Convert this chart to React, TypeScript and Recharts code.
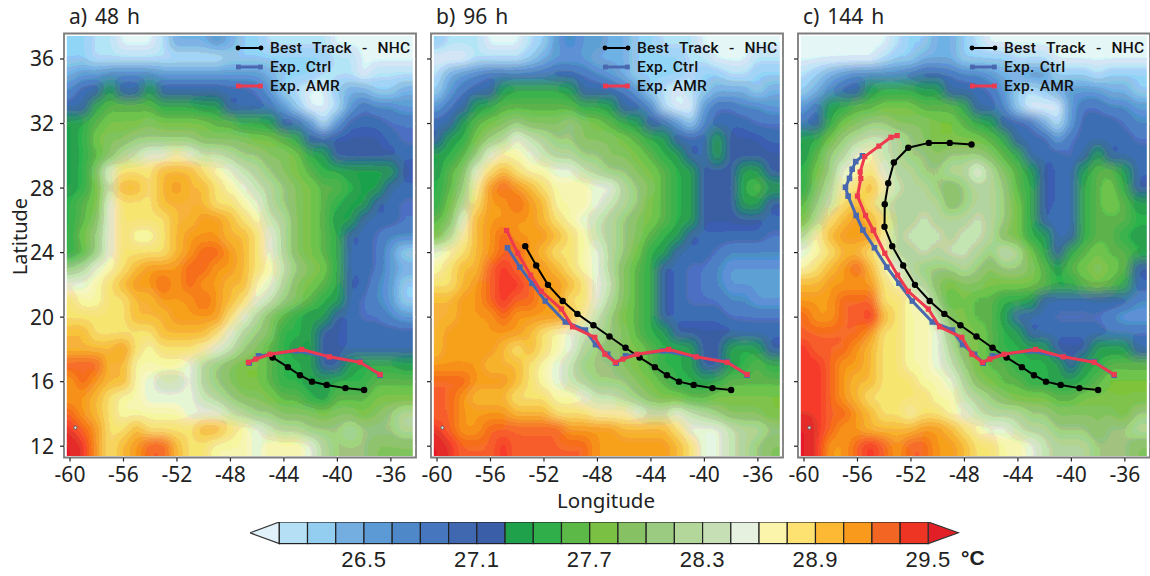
import { ScatterChart, Scatter, XAxis, YAxis, ReferenceLine, ReferenceArea } from "recharts";

const LONS = [-60, -59, -58, -57, -56, -55, -54, -53, -52, -51, -50, -49, -48, -47, -46, -45, -44, -43, -42, -41, -40, -39, -38, -37, -36, -35];
const LATS = [37, 36, 35, 34, 33, 32, 31, 30, 29, 28, 27, 26, 25, 24, 23, 22, 21, 20, 19, 18, 17, 16, 15, 14, 13, 12];
const LON_TICKS = [-60, -56, -52, -48, -44, -40, -36];
const LAT_TICKS = [12, 16, 20, 24, 28, 32, 36];

// one letter per contour level, A is the open left end of the colour bar
const LEVEL_KEYS = "ABCDEFGHIJKLMNOPQRSTUVWXY";
const LEVEL_SST = [25.97, 26.12, 26.27, 26.42, 26.57, 26.72, 26.87, 27.02, 27.17, 27.32, 27.47, 27.62, 27.77, 27.92, 28.07, 28.22, 28.37, 28.52, 28.67, 28.82, 28.97, 29.12, 29.27, 29.42, 29.58];
const LEVEL_COLORS = ["#e1f1fa", "#b5dff5", "#93cdf0", "#74addf", "#5b9ad5", "#4f88c8", "#4676bd", "#3f68b1", "#3a5ea8", "#1fa04b", "#2fae4a", "#5cb947", "#7ac143", "#86c263", "#9bcb80", "#b3d79b", "#c7dfb4", "#e6f1df", "#fbf5ab", "#fde272", "#fdb934", "#f99a1c", "#f26522", "#ee3524", "#e21f26"];
const BAR_TICKS = [26.5, 27.1, 27.7, 28.3, 28.9, 29.5];

const FIELD_48H = [
  "CCBBAAABDDDEDCCBBBBBAAAAAA",
  "CCBBBBBBBBBBCCCCCCCCBBAAAA",
  "DEEFFFFEEEEEEEEDCCCBBBABBB",
  "FHIJIIJIIIIIHHGECBAACDDCCD",
  "HIKLLLLKKKJJIHHGECAABEGFFE",
  "JKLMMMNMMMMLLKKJIHEBEHHHGG",
  "JKMNNOOOOONNNNMMLKIHIIIIHG",
  "JKLNPQRRSRQQPOONNMKJIIIIIH",
  "JKNRTTTUUUTSRQPONMLKKJJJJI",
  "JKMQUUTUVUUTSRQPONMLLKJJIH",
  "KLMRTTTUUUUTTSRPONMLKJJIHG",
  "KLNRTTTTUUVVUTSQPNMLJJIHHG",
  "KMORTSSTUVVVUUTRPNMLKIHGFF",
  "KLORTTTTUVWWVUTRPNMLKHHGEC",
  "OPRSTUVVVWWVVUTSQONMKHHGED",
  "RRSTUVVWVWVVUUSRPNMLKIHFEC",
  "TSSTTUUVVVWVUTRQONLKJHGFEC",
  "TTTTTUUUVVVVTRPNLKJJIHGGFE",
  "UUTTTTTUUUUTRPONKKJIIHHHHH",
  "UUUUVTSTTTSRQONLKJJIIHHHHH",
  "WWWUUSSSSRPONMMLKKJIIJKKKJ",
  "VWVUUSRQQRPONMMLKKJJKKKLLL",
  "VVUTSSRRRRQPONNMLLKJLLLMMM",
  "WVUTSSSSSRRRQPOONNNMNNMNOP",
  "XWVTTUTTTTUUTSRQPPOOOPOOOP",
  "YXVTUVWWUTTSSSRSSSRPOOONNN",
];

const FIELD_96H = [
  "CBBBAAABCEFEEDDCCBBBAAAAAA",
  "AAABBBBCDEEEDDDCCCCBBAAABB",
  "BDEFGGGGGHHGFEDCCCCBCCBBCC",
  "CEGHIJKKKKJIIHGECBABCDDDCD",
  "EGIJKLLLLLLKKJIHFBAAEGGFFE",
  "HIJLMNONNNONMLKJIHECFHHHGG",
  "IJKMOPRQPOONNNMLKJIHHJIIIH",
  "JKLORSSRQPPOONNMLKJIHJIIII",
  "JLNRTUTSSRRQPOONMLKJIIIJJI",
  "KLOSVWVUTSSSRRPONLKJIIIKLJ",
  "KMPTVVWVUSSSRQPOMLKJIIIJJI",
  "LNRUVVVVUTSRQPONMLKJIIIIIH",
  "MPSUVWVVVUTSQPONLKJIHHHHHG",
  "RSTUVWWVUTTSRPOMKJIHHGFFFF",
  "STUUWXWVVUTSRPNLKIHGGFEEEE",
  "TTUVWXXWVVUTRQNLKIHGGFEEEE",
  "UUVVWXWWVVTTRPNLKIHGGGFFEE",
  "UUVVVWVVVVUSQOMLKIHHHHGGGG",
  "UVVVVVVUTSRQPONLKJIIIIIHHH",
  "UVVVVUTUTSRPONNMLKKJIIJKJI",
  "VVVVUUUTSRQOOONMLKKJIIJKLK",
  "WWWVVVUTSRQPOOONMLKKJKLLLL",
  "WWVUUUTTTSSRQQPONMMLLMMMMM",
  "WWVVVVUUUTTTSSSRQQRQPONNNM",
  "XWVVWWWWWWVVVVUUUUTRRRQPPO",
  "YXWWWXWWWWWWVVVVVVUTRRQPON",
];

const FIELD_144H = [
  "AAAAAAABCCDDCBAAAAAAAAAAAA",
  "AAAAAABCCDDDCCCCBBBAAAAAAA",
  "BCDEFFFFGHHGFFEDDEECCCBCCC",
  "CDFHIJKKKJJIIHGECBCDEEEDDC",
  "EGJKLLMMMLLLKIHFCAAAEGGFFE",
  "GIKMNOONNNMMLKJIHGDBEHHHGF",
  "JKMOPQQPONMMMMLKIHHEGHHHHG",
  "JLOPRSQPOONOOONLKHHHGIJIHH",
  "KMORSTRPPOOPPRPNLJIHHJLLJH",
  "KNPSTUSQPPONOPPOLKIHHKLMKI",
  "LOQTUTQPPPPNOPPOMKIHHKLMLJ",
  "MPTUVUTPPQPPPQPOMKIGHKLLLK",
  "PSUVVVSPQQQPQQPNMKJHIKLLKJ",
  "RSTUUTSPPQPQQPOQPMKIKLMLLK",
  "STUVWUSRPOOOPONOONLJLMNMLI",
  "UUVVVVTSQPNMNNMMMMLKKLMLKH",
  "VVVWWWTTSROLMLLKKJIHHHIIHF",
  "WVVWWXUTSSQNMLLJHHHGGGGFEE",
  "WWWWWVTTSSRONMLKJIHHHHHGGG",
  "XWWWVUTTSSRPNMLKKJJIIIJJJI",
  "XXWVVUTTSSRQOMLLKKKJIJKLLL",
  "XXWVUUTTTSSRPNMLLKKJJKLMMM",
  "XXWVUTTTTTSSQPONMMMLLMMMMM",
  "XXWWVUTTSTTSRQPPPOONNNNNMO",
  "YXWVVUUUUVVUTSRRQPPOOONOOP",
  "YXVVWXWVWWVVUTTSSRQPPPOOON",
];

const BEST_TRACK = [
  { lon: -47.47, lat: 30.7 }, { lon: -49.1, lat: 30.8 }, { lon: -50.66, lat: 30.8 }, { lon: -52.2, lat: 30.5 },
  { lon: -53.28, lat: 29.58 }, { lon: -53.7, lat: 28.3 }, { lon: -53.96, lat: 27.0 }, { lon: -53.98, lat: 25.6 },
  { lon: -53.4, lat: 24.4 }, { lon: -52.58, lat: 23.2 }, { lon: -51.7, lat: 22.0 }, { lon: -50.6, lat: 21.0 },
  { lon: -49.5, lat: 20.2 }, { lon: -48.3, lat: 19.5 }, { lon: -47.1, lat: 18.8 }, { lon: -45.9, lat: 18.1 },
  { lon: -44.85, lat: 17.5 }, { lon: -43.7, lat: 16.9 }, { lon: -42.8, lat: 16.4 }, { lon: -41.9, lat: 16.0 },
  { lon: -40.8, lat: 15.8 }, { lon: -39.4, lat: 15.6 }, { lon: -38.0, lat: 15.48 },
];

const CTRL_48H = [
  { lon: -46.6, lat: 17.15 }, { lon: -45.9, lat: 17.6 }, { lon: -43.1, lat: 17.9 }, { lon: -40.7, lat: 17.55 }, { lon: -38.3, lat: 17.25 }, { lon: -36.8, lat: 16.4 },
];
const AMR_48H = [
  { lon: -46.66, lat: 17.2 }, { lon: -46.1, lat: 17.4 }, { lon: -45.04, lat: 17.7 }, { lon: -42.67, lat: 18.0 }, { lon: -40.6, lat: 17.54 }, { lon: -38.3, lat: 17.2 }, { lon: -36.8, lat: 16.45 },
];
const CTRL_96H = [
  { lon: -54.73, lat: 24.3 }, { lon: -53.8, lat: 23.1 }, { lon: -52.9, lat: 22.1 }, { lon: -51.9, lat: 21.0 }, { lon: -50.4, lat: 19.7 }, { lon: -48.9, lat: 19.2 }, { lon: -48.14, lat: 18.3 }, { lon: -47.24, lat: 17.7 },
  ...CTRL_48H,
];
const AMR_96H = [
  { lon: -54.8, lat: 25.37 }, { lon: -53.96, lat: 23.96 }, { lon: -53.0, lat: 22.6 }, { lon: -52.2, lat: 21.6 }, { lon: -50.7, lat: 20.5 }, { lon: -49.86, lat: 19.4 }, { lon: -48.2, lat: 18.75 }, { lon: -47.44, lat: 17.7 },
  ...AMR_48H,
];
const CTRL_144H = [
  { lon: -55.63, lat: 30.0 }, { lon: -56.13, lat: 29.64 }, { lon: -56.4, lat: 29.17 }, { lon: -56.6, lat: 28.6 }, { lon: -56.9, lat: 28.05 }, { lon: -56.7, lat: 27.5 }, { lon: -56.1, lat: 26.3 }, { lon: -55.6, lat: 25.4 },
  ...CTRL_96H,
];
const AMR_144H = [
  { lon: -53.03, lat: 31.25 }, { lon: -53.5, lat: 31.15 }, { lon: -54.4, lat: 30.6 }, { lon: -55.46, lat: 29.95 }, { lon: -55.8, lat: 29.0 }, { lon: -55.75, lat: 28.6 }, { lon: -56.0, lat: 27.5 }, { lon: -55.4, lat: 26.3 }, { lon: -54.83, lat: 25.4 },
  ...AMR_96H,
];
const ISLAND = [{ lon: -59.6, lat: 13.15 }];

const FONT = "'Noto Sans', sans-serif";
const LEGEND_FONT = "Roboto, sans-serif";
const BAR_FONT = "'Liberation Sans', sans-serif";

const CELL_W = 13.37;
const CELL_H = 16.15;
const LON_DOMAIN = [-60.45, -34.12];
const LAT_DOMAIN = [11.3, 37.58];
// steps per colour channel, makes the softened field read as filled contours
const POSTER = Array.from({ length: 15 }, (_, i) => ((i + 0.5) / 15).toFixed(3)).join(" ");

const toCells = (rows: string[]) =>
  rows.flatMap((row, r) =>
    row.split("").map((key, c) => {
      const level = LEVEL_KEYS.indexOf(key);
      return { lon: LONS[c], lat: LATS[r], sst: LEVEL_SST[level], level, r, c };
    }),
  );

// edge cells run on past the frame so the softening does not fade at the border
const HeatCell = ({ cx, cy, payload }: any) => {
  const grow = 24;
  const x0 = cx - CELL_W / 2 - 0.5 - (payload.c === 0 ? grow : 0);
  const x1 = cx + CELL_W / 2 + 0.5 + (payload.c === LONS.length - 1 ? grow : 0);
  const y0 = cy - CELL_H / 2 - 0.5 - (payload.r === 0 ? grow : 0);
  const y1 = cy + CELL_H / 2 + 0.5 + (payload.r === LATS.length - 1 ? grow : 0);
  return <rect x={x0} y={y0} width={x1 - x0} height={y1 - y0} fill={LEVEL_COLORS[payload.level]} />;
};

const Dot = ({ cx, cy }: any) => <circle cx={cx} cy={cy} r={3.2} fill="#000" />;
const BlueMark = ({ cx, cy }: any) => <rect x={cx - 2.8} y={cy - 2.8} width={5.6} height={5.6} fill="#4a68b0" />;
const RedMark = ({ cx, cy }: any) => <rect x={cx - 2.6} y={cy - 2.6} width={5.2} height={5.2} fill="#ee3a4e" />;
const IslandMark = ({ cx, cy }: any) => <circle cx={cx} cy={cy} r={1.6} fill="#ddd" stroke="#555" strokeWidth={0.8} />;

const TrackLegend = () => {
  const rows = [
    { label: "Best Track - NHC", color: "#000", width: 2, mark: "c", y: 47.5, gap: 6 },
    { label: "Exp. Ctrl", color: "#4a68b0", width: 3, mark: "s", y: 66.5, gap: 1 },
    { label: "Exp. AMR", color: "#ee3a4e", width: 3, mark: "s", y: 85.5, gap: 1 },
  ];
  return (
    <>
      {rows.map((row) => (
        <div key={row.label} style={{ position: "absolute", left: 0, top: row.y - 10, height: 20 }}>
          <svg width={30} height={20} style={{ position: "absolute", left: 235, top: 0 }}>
            <line x1={2} x2={27} y1={10} y2={10} stroke={row.color} strokeWidth={row.width} />
            {row.mark === "c" ? (
              <>
                <circle cx={3} cy={10} r={2.4} fill={row.color} />
                <circle cx={26} cy={10} r={2.4} fill={row.color} />
              </>
            ) : (
              <>
                <rect x={1} y={7.6} width={4.8} height={4.8} fill={row.color} />
                <rect x={23} y={7.6} width={4.8} height={4.8} fill={row.color} />
              </>
            )}
          </svg>
          <span style={{ position: "absolute", left: 270, top: 0, lineHeight: "20px", whiteSpace: "pre", fontFamily: LEGEND_FONT, fontSize: 15.5, fontWeight: 500, color: "#111", letterSpacing: 0.25, wordSpacing: row.gap }}>
            {row.label}
          </span>
        </div>
      ))}
    </>
  );
};

const Panel = ({ id, left, title, rows, best, ctrl, amr, showLat }: any) => (
  <div style={{ position: "absolute", left, top: 0, width: 420, height: 500 }}>
    <div style={{ position: "absolute", left: 69, top: 2, fontFamily: FONT, fontSize: 21, wordSpacing: 2.5, color: "#222", whiteSpace: "pre" }}>{title}</div>
    <ScatterChart width={420} height={500} margin={{ top: 33.5, right: 4, bottom: 0, left: 0 }}>
      <defs>
        <filter id={`soften-${id}`} x="-10%" y="-10%" width="120%" height="120%" colorInterpolationFilters="sRGB">
          <feGaussianBlur stdDeviation="5.5 6.5" />
          <feComponentTransfer>
            <feFuncR type="discrete" tableValues={POSTER} />
            <feFuncG type="discrete" tableValues={POSTER} />
            <feFuncB type="discrete" tableValues={POSTER} />
          </feComponentTransfer>
        </filter>
        <clipPath id={`inner-${id}`}>
          <rect x={66.8} y={36} width={346} height={420} />
        </clipPath>
      </defs>
      <XAxis
        type="number"
        dataKey="lon"
        domain={LON_DOMAIN}
        ticks={LON_TICKS}
        interval={0}
        height={42.5}
        axisLine={false}
        tickSize={4}
        fontSize={21}
        tickLine={{ stroke: "#222", strokeWidth: 1.2 }}
        tick={{ fontFamily: FONT, fontSize: 21, fill: "#222", dy: 4 }}
        tickFormatter={(v: number) => `${v}`}
      />
      <YAxis
        type="number"
        dataKey="lat"
        domain={LAT_DOMAIN}
        ticks={LAT_TICKS}
        interval={0}
        width={64}
        axisLine={false}
        tickSize={4}
        fontSize={21}
        tickLine={{ stroke: "#222", strokeWidth: 1.2 }}
        tick={{ fontFamily: FONT, fontSize: 21, fill: "#222", dx: -4 }}
        tickFormatter={(v: number) => (showLat ? `${v}` : "")}
      />
      <Scatter data={toCells(rows)} shape={HeatCell} className={`heat-${id}`} isAnimationActive={false} />
      {LON_TICKS.map((v) => (
        <ReferenceLine key={`x${v}`} x={v} stroke="#f2f2f2" strokeOpacity={0.75} strokeWidth={1} strokeDasharray="1.5 3.5" />
      ))}
      {LAT_TICKS.map((v) => (
        <ReferenceLine key={`y${v}`} y={v} stroke="#f2f2f2" strokeOpacity={0.75} strokeWidth={1} strokeDasharray="1.5 3.5" />
      ))}
      <ReferenceArea x1={LON_DOMAIN[0]} x2={LON_DOMAIN[1]} y1={LAT_DOMAIN[0]} y2={LAT_DOMAIN[1]} fill="none" stroke="#7c7c7c" strokeWidth={1.8} />
      <Scatter data={ISLAND} shape={IslandMark} isAnimationActive={false} />
      <Scatter data={best} shape={Dot} line={{ stroke: "#000", strokeWidth: 2 }} isAnimationActive={false} />
      <Scatter data={ctrl} shape={BlueMark} line={{ stroke: "#4a68b0", strokeWidth: 3 }} isAnimationActive={false} />
      <Scatter data={amr} shape={RedMark} line={{ stroke: "#ee3a4e", strokeWidth: 3 }} isAnimationActive={false} />
    </ScatterChart>
    <TrackLegend />
  </div>
);

const barCells = LEVEL_SST.map((sst, level) => ({ sst, y: 0.5, level }));

const BarCell = ({ cx, cy, payload }: any) => {
  const w = 28.22;
  const h = 21.6;
  const color = LEVEL_COLORS[payload.level];
  if (payload.level === 0) {
    const right = 279.3 - 250;
    return <polygon points={`${right},${cy - h / 2} 0,${cy} ${right},${cy + h / 2}`} fill={color} stroke="#333" strokeWidth={1.2} />;
  }
  if (payload.level === LEVEL_COLORS.length - 1) {
    const x0 = 928.3 - 250;
    return <polygon points={`${x0},${cy - h / 2} ${x0 + 30},${cy} ${x0},${cy + h / 2}`} fill={color} stroke="#333" strokeWidth={1.2} />;
  }
  const x0 = 279.3 - 250 + (payload.level - 1) * w;
  return <rect x={x0} y={cy - h / 2} width={w} height={h} fill={color} stroke="#222" strokeWidth={1.2} />;
};

const ColorBar = () => (
  <div style={{ position: "absolute", left: 250, top: 521.7 }}>
    <ScatterChart width={750} height={54} margin={{ top: 0, right: 41.7, bottom: 0, left: 0 }}>
      <XAxis
        type="number"
        dataKey="sst"
        domain={[25.894, 29.66]}
        ticks={BAR_TICKS}
        interval={0}
        height={32.4}
        axisLine={false}
        tickLine={false}
        fontSize={22}
        tick={{ fontFamily: BAR_FONT, fontSize: 22, fill: "#222", letterSpacing: 0.7 }}
        tickFormatter={(v: number) => v.toFixed(1)}
      />
      <YAxis type="number" dataKey="y" domain={[0, 1]} hide />
      <Scatter data={barCells} shape={BarCell} isAnimationActive={false} />
    </ScatterChart>
  </div>
);

export default function App() {
  return (
    <div style={{ position: "absolute", left: 0, top: 0, width: 1150, height: 576, overflow: "hidden", background: "#fff" }}>
      <style>{["a", "b", "c"].map((id) => `.heat-${id}{filter:url(#soften-${id});clip-path:url(#inner-${id});}`).join("")}</style>
      <Panel id="a" left={0} title="a) 48 h" rows={FIELD_48H} best={BEST_TRACK.slice(16)} ctrl={CTRL_48H} amr={AMR_48H} showLat />
      <Panel id="b" left={367} title="b) 96 h" rows={FIELD_96H} best={BEST_TRACK.slice(8)} ctrl={CTRL_96H} amr={AMR_96H} />
      <Panel id="c" left={734} title="c) 144 h" rows={FIELD_144H} best={BEST_TRACK} ctrl={CTRL_144H} amr={AMR_144H} />
      <div style={{ position: "absolute", left: 3, top: 236, width: 34, height: 0, display: "flex", alignItems: "center", justifyContent: "center" }}>
        <span style={{ transform: "rotate(-90deg)", fontFamily: FONT, fontSize: 20, color: "#222", whiteSpace: "pre" }}>Latitude</span>
      </div>
      <div style={{ position: "absolute", left: 506, top: 486, width: 200, textAlign: "center", fontFamily: FONT, fontSize: 20.5, color: "#222", lineHeight: "28px" }}>Longitude</div>
      <ColorBar />
      <div style={{ position: "absolute", left: 961, top: 546, fontFamily: BAR_FONT, fontSize: 21, fontWeight: 700, color: "#222" }}>°C</div>
    </div>
  );
}
